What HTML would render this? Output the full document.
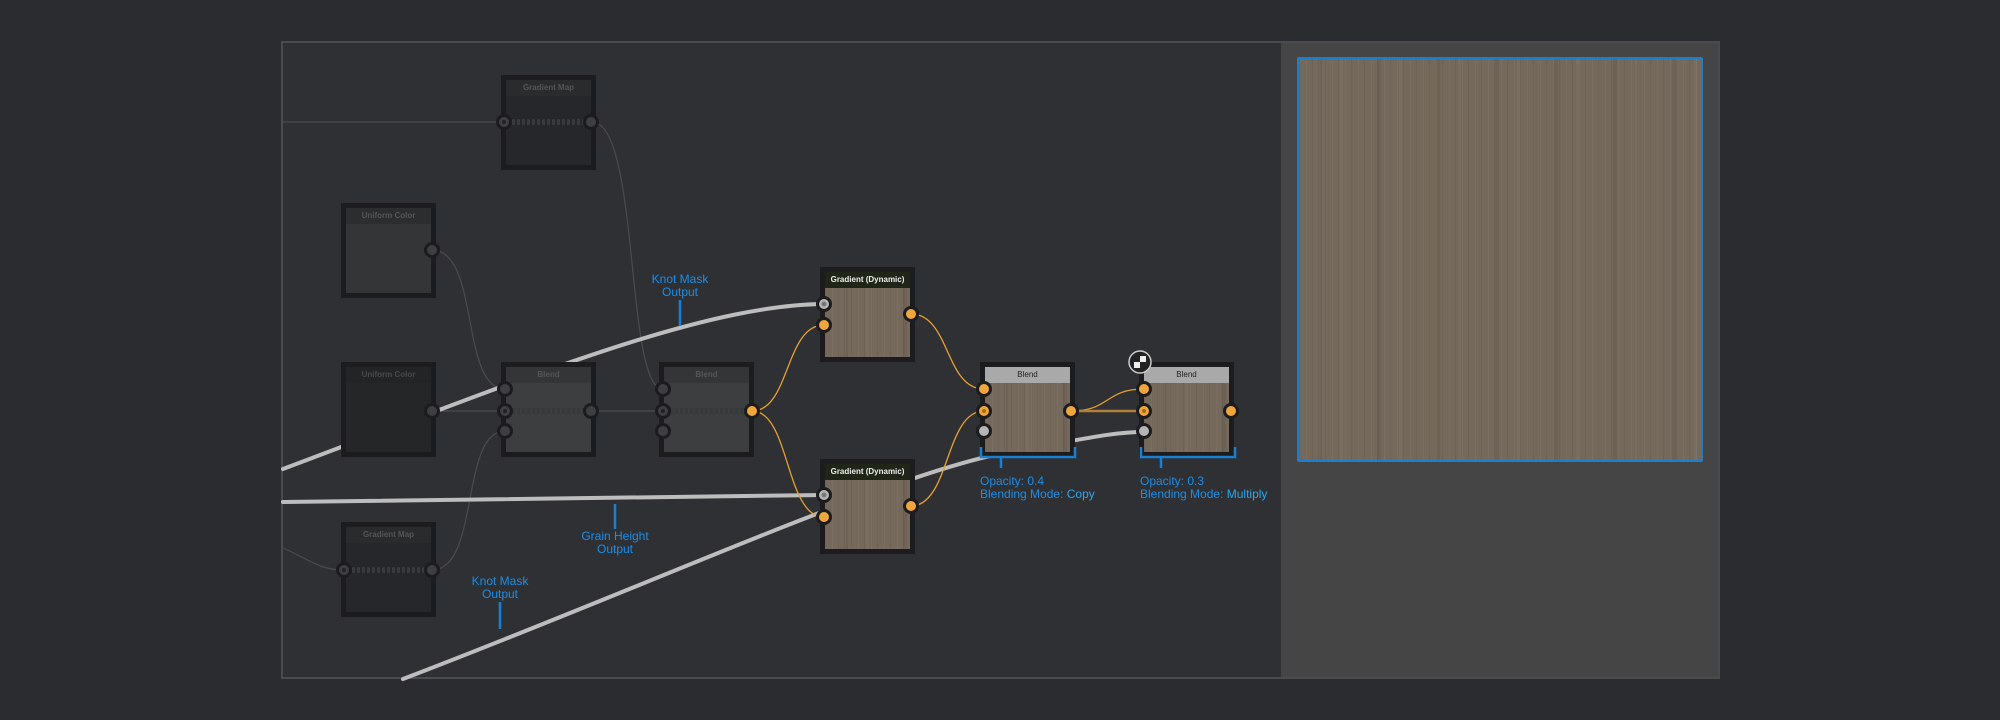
<!DOCTYPE html>
<html><head><meta charset="utf-8"><style>
*{margin:0;padding:0;box-sizing:border-box}
body{width:2000px;height:720px;background:#2b2c2f;position:relative;overflow:hidden;font-family:"Liberation Sans",sans-serif}
#frame{position:absolute;left:281px;top:41px;width:1439px;height:638px;border:2px solid #4a4b4e;background:#2f3034;overflow:hidden}
#panel{position:absolute;left:1281px;top:41px;width:439px;height:638px;background:#454545;border:2px solid #4a4b4e;border-left:none}
.wood{background:
repeating-linear-gradient(90deg,rgba(0,0,0,.06) 0 1px,transparent 1px 7px,rgba(255,255,255,.04) 7px 8px,transparent 8px 13px),
repeating-linear-gradient(90deg,transparent 0 19px,rgba(0,0,0,.07) 19px 23px,transparent 23px 41px,rgba(255,255,255,.035) 41px 44px,transparent 44px 59px),
#75695b}
#preview{position:absolute;left:1297px;top:57px;width:406px;height:405px;border:2px solid #1a7fd0;border-radius:2px}
.node{position:absolute;width:95px;height:95px;border:5px solid #1c1c1e;background:#26272a}
.hd{height:16px;font-size:8px;text-align:center;line-height:16px;font-weight:bold}
.bd{position:absolute;left:0;right:0;top:16px;bottom:0}
svg{position:absolute;left:0;top:0}
.lbl{position:absolute;color:#1a8ee8;font-size:12px;text-align:center;line-height:13px}
.info{position:absolute;color:#1a8ee8;font-size:12px;line-height:13px;white-space:nowrap}
</style></head><body>
<div id="frame"></div>
<div id="panel"></div>
<div id="preview" class="wood"></div>

<svg width="2000" height="720" viewBox="0 0 2000 720">
<g fill="none">
<g stroke="#4a4b4e" stroke-width="1.2">
<path d="M283,122 L505,122"/>
<path d="M592,122 C640,122 625,390 663,389"/>
<path d="M432,250 C480,250 460,389 505,389"/>
<path d="M432,411 L663,411"/>
<path d="M432,570 C480,570 460,431 505,431"/>
<path d="M283,548 C310,560 320,570 344,570"/>
</g>
<g stroke="#bdbdbd" stroke-width="4" stroke-linecap="round">
<path d="M283,469 C520,380 700,305 824,304"/>
<path d="M283,502 C500,498 700,496 824,495"/>
<path d="M403,679 C650,585 900,470 1010,452 C1080,440 1110,432 1144,432"/>
</g>
</g>
</svg>

<div class="node" style="left:501px;top:75px"><div class="hd" style="background:#2a2b2d;color:#555">Gradient Map</div></div>
<div class="node" style="left:341px;top:203px;background:#343537"><div class="hd" style="background:#2c2d2f;color:#555">Uniform Color</div></div>
<div class="node" style="left:341px;top:362px;background:#252628"><div class="hd" style="background:#232426;color:#4a4a4a">Uniform Color</div></div>
<div class="node" style="left:501px;top:362px;background:#3d3e40"><div class="hd" style="background:#343537;color:#555">Blend</div></div>
<div class="node" style="left:659px;top:362px;background:#3d3e40"><div class="hd" style="background:#343537;color:#555">Blend</div></div>
<div class="node" style="left:341px;top:522px"><div class="hd" style="background:#2a2b2d;color:#555">Gradient Map</div></div>
<div class="node" style="left:820px;top:267px"><div class="hd" style="background:#1f2617;color:#eee">Gradient (Dynamic)</div><div class="bd wood"></div></div>
<div class="node" style="left:820px;top:459px"><div class="hd" style="background:#1f2617;color:#eee">Gradient (Dynamic)</div><div class="bd wood"></div></div>
<div class="node" style="left:980px;top:362px"><div class="hd" style="background:#a9a9a9;color:#222;font-weight:normal">Blend</div><div class="bd wood"></div></div>
<div class="node" style="left:1139px;top:362px"><div class="hd" style="background:#a9a9a9;color:#222;font-weight:normal">Blend</div><div class="bd wood"></div></div>

<svg width="2000" height="720" viewBox="0 0 2000 720">
<g fill="none">
<g stroke="#38393b" stroke-width="6" stroke-dasharray="3 2"><path d="M512,122 L585,122"/><path d="M352,570 L425,570"/><path d="M512,411 L585,411"/><path d="M670,411 L745,411"/></g>
<g stroke="#e8a030" stroke-width="1.3">
<path d="M752,411 C790,411 785,325 824,325"/>
<path d="M752,411 C790,411 785,517 824,517"/>
<path d="M911,314 C950,314 945,389 984,389"/>
<path d="M911,506 C950,506 945,411 984,411"/>
<path d="M1071,411 C1110,411 1105,389 1144,389"/>
</g>
<path d="M1071,411 L1144,411" stroke="#b27f38" stroke-width="2.5"/>
</g>
<g stroke="#1c1c1e" stroke-width="3">
<g fill="#3e3f42"><circle cx="504" cy="122" r="6.5"/><circle cx="591" cy="122" r="6.5"/><circle cx="432" cy="250" r="6.5"/><circle cx="432" cy="411" r="6.5"/><circle cx="505" cy="389" r="6.5"/><circle cx="505" cy="411" r="6.5"/><circle cx="505" cy="431" r="6.5"/><circle cx="591" cy="411" r="6.5"/><circle cx="663" cy="389" r="6.5"/><circle cx="663" cy="411" r="6.5"/><circle cx="663" cy="431" r="6.5"/><circle cx="344" cy="570" r="6.5"/><circle cx="432" cy="570" r="6.5"/></g>
<g fill="#f0a63a"><circle cx="752" cy="411" r="6.5"/><circle cx="824" cy="325" r="6.5"/><circle cx="911" cy="314" r="6.5"/><circle cx="824" cy="517" r="6.5"/><circle cx="911" cy="506" r="6.5"/><circle cx="984" cy="389" r="6.5"/><circle cx="984" cy="411" r="6.5"/><circle cx="1071" cy="411" r="6.5"/><circle cx="1144" cy="389" r="6.5"/><circle cx="1144" cy="411" r="6.5"/><circle cx="1231" cy="411" r="6.5"/></g>
<g fill="#b5b5b5"><circle cx="824" cy="304" r="6.5"/><circle cx="824" cy="495" r="6.5"/><circle cx="984" cy="431" r="6.5"/><circle cx="1144" cy="431" r="6.5"/></g>
</g>
<g fill="#222"><circle cx="504" cy="122" r="2"/><circle cx="505" cy="411" r="2"/><circle cx="663" cy="411" r="2"/><circle cx="344" cy="570" r="2"/><circle cx="824" cy="304" r="2.5" fill="#777"/><circle cx="824" cy="495" r="2.5" fill="#777"/><circle cx="984" cy="411" r="2" fill="#a86b1a"/><circle cx="1144" cy="411" r="2" fill="#a86b1a"/></g>
<circle cx="1140" cy="362" r="11" fill="#222" stroke="#ccc" stroke-width="1.5"/>
<rect x="1134" y="356" width="12" height="12" fill="#eee"/><rect x="1134" y="356" width="6" height="6" fill="#222"/><rect x="1140" y="362" width="6" height="6" fill="#222"/>
<g stroke="#1a7fd0" stroke-width="2.5" fill="none">
<path d="M680,300 V326"/><path d="M615,504 V529"/><path d="M500,602 V629"/>
<path d="M981,447 V457 H1075 V447"/><path d="M1001,457 V468"/>
<path d="M1141,447 V457 H1235 V447"/><path d="M1161,457 V468"/>
</g>
</svg>

<div class="lbl" style="left:640px;top:273px;width:80px">Knot Mask<br>Output</div>
<div class="lbl" style="left:570px;top:530px;width:90px">Grain Height<br>Output</div>
<div class="lbl" style="left:460px;top:575px;width:80px">Knot Mask<br>Output</div>
<div class="info" style="left:980px;top:475px">Opacity: 0.4<br>Blending Mode: <span style="color:#2aa6f0">Copy</span></div>
<div class="info" style="left:1140px;top:475px">Opacity: 0.3<br>Blending Mode: <span style="color:#2aa6f0">Multiply</span></div>
</body></html>
